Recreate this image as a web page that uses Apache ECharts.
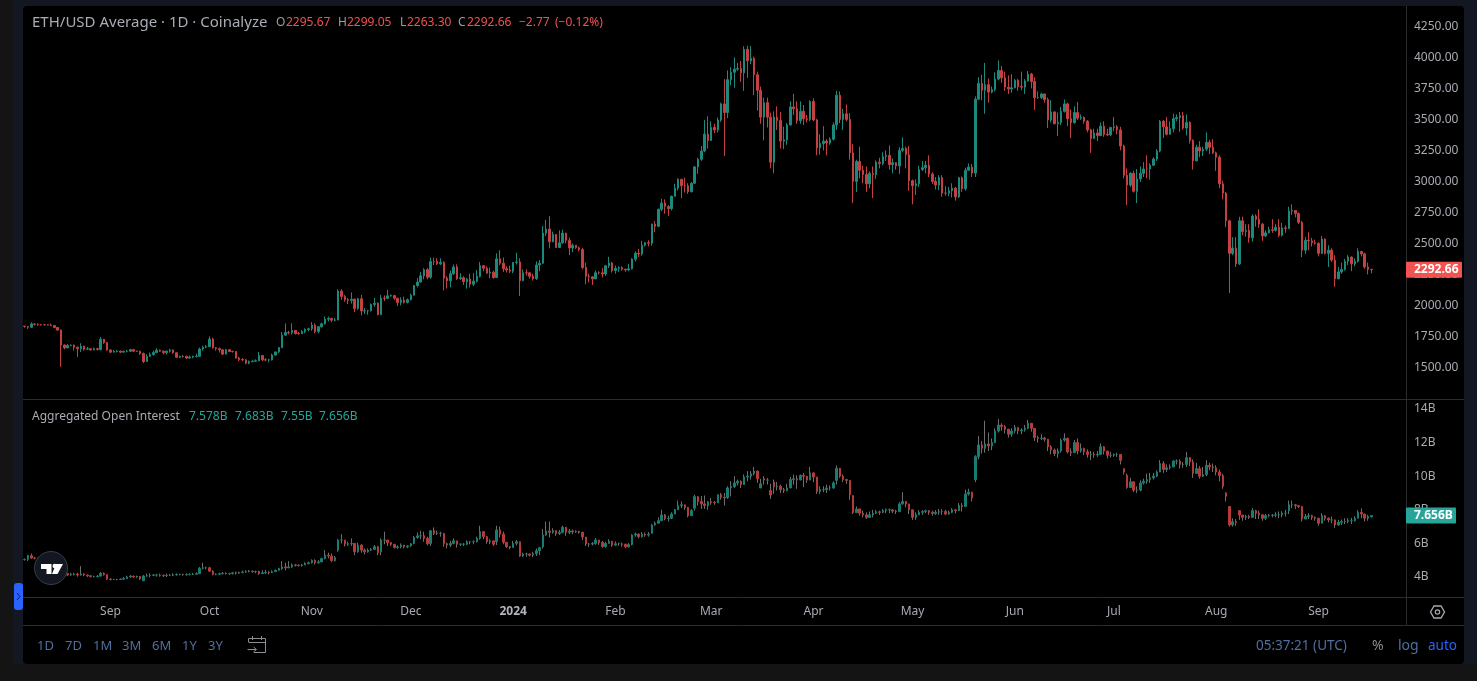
<!DOCTYPE html>
<html><head><meta charset="utf-8">
<style>html,body{margin:0;padding:0;background:#131722;overflow:hidden}#c{width:1477px;height:681px}</style>
<script src="https://cdn.jsdelivr.net/npm/echarts@6/dist/echarts.min.js"></script>
</head><body><div id="c"></div>
<script>
const startDate = '2023-08-06';
const futureDays = 10;
const monthNames = ['Jan','Feb','Mar','Apr','May','Jun','Jul','Aug','Sep','Oct','Nov','Dec'];
const priceTicks = [1500,1750,2000,2250,2500,2750,3000,3250,3500,3750,4000,4250];
const oiTicks = [4,6,8,10,12,14];
const priceFirstOpen = 1838;
const priceClose = [
/*Aug23*/1835,1828,1855,1853,1850,1849,1848,1846,1842,1827,1806,1685,1662,1681,1684,1668,1656,1676,1652,1655,1646,1656,1650,1732,1705,1645,
/*Sep23*/1628,1634,1636,1628,1634,1635,1648,1636,1635,1617,1552,1593,1608,1625,1642,1636,1624,1636,1645,1623,1586,1594,1593,1580,1588,1593,1595,1653,1667,1672,
/*Oct23*/1733,1663,1656,1647,1612,1647,1633,1633,1580,1568,1566,1539,1553,1555,1558,1600,1566,1565,1566,1604,1630,1664,1765,1786,1785,1803,1778,1777,1795,1810,1816,
/*Nov23*/1846,1795,1833,1856,1894,1900,1886,1887,2120,2077,2050,2045,2055,1980,2058,1960,1961,1962,2013,2022,1930,2063,2062,2082,2084,2063,2028,2048,2029,2051,
/*Dec23*/2087,2165,2193,2243,2293,2232,2358,2358,2340,2352,2225,2203,2260,2315,2220,2228,2196,2217,2176,2200,2240,2325,2305,2265,2272,2230,2380,2345,2300,2290,2281,
/*Jan24*/2352,2355,2204,2268,2268,2240,2220,2330,2345,2588,2620,2518,2577,2472,2510,2588,2529,2468,2490,2470,2455,2310,2240,2235,2218,2268,2268,2258,2324,2346,2286,
/*Feb24*/2304,2309,2297,2291,2300,2378,2425,2420,2490,2510,2506,2660,2643,2780,2830,2802,2785,2885,2950,3022,2970,2970,2922,2990,3122,3183,3250,3386,3335,
/*Mar24*/3440,3420,3500,3630,3560,3825,3885,3910,3915,3880,4070,3977,3997,3865,3740,3523,3640,3523,3160,3523,3495,3330,3340,3460,3605,3590,3495,3570,3510,3505,3650,
/*Apr24*/3500,3275,3310,3330,3315,3345,3460,3700,3505,3550,3505,3235,3005,3165,3095,3060,2985,3070,3060,3160,3150,3205,3215,3140,3155,3130,3255,3270,3220,3010,
/*May24*/2970,2985,3100,3115,3135,3065,3005,2975,3035,2910,2910,2930,2950,2880,3035,2945,3095,3120,3072,3668,3795,3740,3785,3725,3745,3830,3900,3840,3765,3750,3760,
/*Jun24*/3820,3770,3765,3815,3870,3810,3680,3680,3710,3665,3500,3565,3470,3480,3570,3630,3510,3480,3560,3515,3520,3490,3420,3350,3395,3375,3450,3385,3380,3440,
/*Jul24*/3445,3420,3290,3055,2975,3070,2925,3025,3070,3105,3105,3135,3185,3250,3490,3445,3385,3430,3510,3520,3535,3435,3480,3335,3170,3280,3250,3265,3320,3280,3235,
/*Aug24*/3200,2985,2910,2687,2425,2467,2340,2687,2600,2610,2550,2725,2700,2660,2565,2590,2615,2610,2635,2570,2630,2625,2765,2770,2745,2675,2450,2530,2525,2510,2505,
/*Sep24*/2425,2540,2425,2450,2370,2220,2275,2295,2360,2395,2340,2360,2440,2420,2315,2295.67,2292.66];
const priceHigh = [
/*Aug23*/1840,1838,1868,1860,1860,1855,1852,1852,1858,1840,1830,1810,1690,1695,1690,1690,1672,1700,1680,1670,1655,1665,1662,1750,1730,1710,
/*Sep23*/1650,1645,1645,1640,1640,1645,1655,1650,1640,1640,1625,1610,1625,1640,1660,1650,1640,1640,1655,1650,1625,1600,1605,1600,1600,1600,1615,1665,1680,1685,
/*Oct23*/1755,1745,1670,1665,1650,1655,1650,1640,1635,1590,1580,1570,1560,1562,1570,1630,1605,1580,1575,1615,1630,1670,1790,1860,1800,1860,1805,1790,1805,1820,1825,
/*Nov23*/1870,1860,1838,1865,1915,1915,1905,1905,2135,2135,2090,2065,2110,2060,2065,2090,1985,1970,2020,2065,2030,2090,2085,2130,2095,2090,2065,2070,2075,2060,
/*Dec23*/2100,2170,2225,2275,2305,2305,2390,2390,2385,2385,2360,2240,2285,2335,2335,2265,2240,2225,2260,2265,2290,2355,2330,2320,2310,2285,2425,2450,2390,2320,2325,
/*Jan24*/2355,2430,2385,2295,2295,2270,2260,2360,2370,2645,2695,2725,2600,2580,2610,2615,2590,2550,2505,2490,2480,2470,2350,2260,2240,2285,2280,2305,2330,2397,2355,
/*Feb24*/2325,2320,2320,2300,2340,2385,2440,2460,2525,2515,2530,2665,2685,2785,2865,2860,2815,2890,2985,3030,3015,3035,2990,3000,3125,3195,3290,3500,3530,
/*Mar24*/3490,3470,3520,3640,3830,3900,3925,4005,3960,3975,4095,4100,4097,4010,3890,3770,3680,3680,3560,3570,3610,3565,3445,3475,3650,3710,3650,3650,3620,3540,3660,
/*Apr24*/3675,3510,3385,3450,3345,3360,3480,3735,3730,3590,3625,3555,3305,3180,3285,3130,3125,3085,3125,3175,3195,3240,3255,3295,3190,3160,3280,3360,3285,3290,
/*May24*/3020,3020,3130,3170,3170,3215,3080,3040,3055,3055,2965,2960,2990,2960,3040,3045,3115,3150,3145,3690,3845,3865,3960,3835,3770,3885,3980,3935,3890,3860,3870,
/*Jun24*/3830,3830,3890,3830,3895,3880,3845,3730,3720,3710,3680,3660,3570,3560,3605,3665,3640,3585,3610,3645,3545,3530,3500,3430,3430,3430,3480,3490,3430,3445,
/*Jul24*/3525,3460,3445,3300,3110,3080,3090,3105,3125,3160,3215,3150,3200,3265,3500,3500,3525,3490,3550,3545,3565,3565,3545,3490,3345,3300,3330,3285,3400,3340,3345,
/*Aug24*/3245,3215,3010,2920,2695,2555,2555,2720,2720,2660,2660,2740,2740,2780,2670,2610,2640,2700,2660,2700,2670,2650,2800,2820,2760,2755,2685,2555,2595,2550,2535,
/*Sep24*/2515,2565,2545,2490,2465,2410,2315,2350,2380,2410,2400,2385,2465,2445,2430,2350,2299.05];
const priceLow = [
/*Aug23*/1825,1815,1825,1842,1840,1842,1845,1843,1838,1820,1800,1510,1650,1660,1675,1640,1590,1630,1640,1645,1640,1645,1640,1640,1695,1640,
/*Sep23*/1620,1625,1625,1620,1625,1625,1630,1630,1630,1605,1540,1550,1590,1600,1620,1630,1610,1610,1625,1615,1580,1580,1585,1572,1575,1578,1585,1590,1640,1660,
/*Oct23*/1672,1655,1640,1625,1605,1610,1628,1625,1575,1555,1555,1530,1530,1545,1552,1555,1555,1555,1545,1560,1600,1620,1665,1760,1770,1770,1770,1770,1775,1780,1795,
/*Nov23*/1800,1780,1780,1825,1850,1875,1870,1875,1885,2050,2035,2015,2020,1950,1970,1925,1935,1930,1955,1995,1925,1930,2040,2055,2075,2050,2000,2005,2020,2020,
/*Dec23*/2045,2085,2150,2190,2215,2215,2220,2330,2330,2330,2125,2140,2150,2250,2210,2210,2170,2140,2150,2160,2190,2230,2280,2260,2225,2220,2225,2330,2275,2270,2265,
/*Jan24*/2265,2335,2080,2200,2245,2220,2205,2210,2280,2340,2565,2465,2515,2470,2470,2500,2505,2410,2435,2460,2440,2295,2175,2190,2170,2220,2255,2230,2243,2305,2270,
/*Feb24*/2260,2275,2285,2275,2280,2295,2360,2395,2405,2480,2480,2485,2595,2635,2765,2745,2725,2770,2915,2930,2870,2915,2905,2915,2985,3065,3170,3240,3270,
/*Mar24*/3420,3395,3400,3485,3210,3515,3780,3760,3895,3808,3735,3840,3950,3700,3575,3470,3335,3440,3110,3070,3420,3270,3265,3300,3455,3540,3470,3470,3460,3480,3490,
/*Apr24*/3490,3215,3220,3255,3215,3300,3335,3420,3475,3420,3490,3180,2830,2920,3030,2990,2920,2950,2870,3025,3110,3135,3170,3100,3070,3100,3065,3240,3110,2930,
/*May24*/2820,2895,2960,3090,3070,3040,2985,2940,2935,2880,2890,2885,2875,2850,2870,2920,2930,3090,3040,3040,3660,3660,3550,3640,3715,3730,3820,3800,3735,3710,3720,
/*Jun24*/3755,3735,3740,3710,3810,3755,3580,3670,3670,3640,3435,3480,3465,3370,3460,3560,3450,3355,3470,3500,3500,3470,3400,3235,3350,3330,3370,3365,3370,3370,
/*Jul24*/3410,3385,3255,3030,2815,2960,2915,2830,3000,3040,3030,3020,3130,3170,3240,3355,3375,3380,3400,3490,3405,3420,3375,3310,3100,3170,3200,3210,3250,3225,3225,
/*Aug24*/3090,2950,2860,2635,2105,2410,2315,2330,2570,2560,2510,2520,2640,2630,2525,2555,2585,2590,2600,2555,2560,2590,2620,2735,2715,2660,2395,2420,2450,2480,2495,
/*Sep24*/2400,2420,2415,2315,2355,2155,2215,2260,2285,2330,2280,2320,2350,2400,2300,2255,2263.3];
const oiFirstOpen = 5.03;
const oiClose = [
5.05,5.27,5.13,5.12,5.10,5.08,5.08,5.05,5.00,4.95, 4.90,4.35,4.20,4.12,4.16,4.18,4.12,4.18,4.12,4.08,
4.02,4.02,4.05,4.22,4.14,3.88,3.85,3.85,3.85,3.87, 3.90,4.00,4.05,4.00,4.03,3.88,4.06,4.08,4.10,4.12,
4.12,4.10,4.08,4.10,4.10,4.13,4.15,4.15,4.14,4.14, 4.15,4.17,4.20,4.52,4.55,4.55,4.35,4.15,4.17,4.20,
4.22,4.20,4.20,4.25,4.23,4.27,4.30,4.33,4.35,4.32, 4.33,4.20,4.25,4.28,4.27,4.32,4.40,4.50,4.60,4.55,
4.60,4.72,4.70,4.68,4.72,4.80,4.85,4.98,4.85,4.90, 5.10,5.30,5.25,4.98,5.15,6.20,6.20,5.95,5.98,6.00,
5.50,5.90,5.60,5.50,5.60,5.65,5.80,5.45,6.20,6.20, 6.05,5.95,5.75,5.80,5.90,5.80,5.85,5.98,6.35,6.45,
6.45,6.30,5.98,6.75,6.60,6.60,6.60,5.98,5.90,6.00, 6.15,5.95,5.95,5.95,6.10,6.10,6.10,6.30,6.70,6.40,
6.10,6.15,5.95,6.80,6.55,6.07,5.80,5.76,6.00,6.10, 5.25,5.37,5.37,5.30,5.38,5.57,5.74,6.50,6.74,6.66,
6.76,6.58,6.66,6.96,6.66,6.74,6.68,6.72,6.66,6.38, 5.96,5.96,6.00,6.20,6.06,5.81,6.00,6.13,5.90,5.98,
5.97,5.95,5.80,5.93,6.50,6.55,6.40,6.55,6.50,6.55, 7.10,7.20,7.35,7.69,7.49,7.50,7.75,8.00,8.25,8.30,
8.15,7.65,7.95,8.78,8.50,8.35,8.25,8.48,8.44,8.42, 8.90,8.75,8.72,9.30,9.38,9.60,9.70,9.50,9.95,10.00,
10.15,10.30,9.85,9.55,9.77,9.77,8.88,9.37,9.40,9.20, 9.15,9.30,9.80,9.85,9.78,10.05,10.00,9.77,10.20,9.95,
9.10,9.20,9.20,9.30,9.30,9.60,10.47,10.00,9.80,9.75, 8.90,7.83,8.05,7.80,7.70,7.55,7.70,7.80,7.88,7.85,
7.95,8.00,8.00,7.92,7.90,8.35,8.50,8.35,8.00,7.55, 7.70,7.85,7.90,7.95,7.85,7.78,7.85,7.90,7.90,7.75,
7.85,8.00,7.95,8.25,8.20,8.94,9.05,8.72,11.16,11.86, 11.66,11.92,11.80,12.00,12.69,13.04,12.95,12.80,12.50,12.69,
12.90,12.70,12.75,12.85,13.15,12.85,12.30,12.25,12.27,12.20, 11.75,11.56,11.35,11.50,12.15,12.25,11.45,11.40,12.00,11.50,
11.65,11.45,11.30,11.30,11.26,11.30,11.75,11.50,11.25,11.25, 11.30,11.30,10.95,10.25,9.33,9.67,9.17,9.17,9.60,9.70,
9.80,9.90,10.00,10.25,10.75,10.40,10.50,10.55,10.90,10.90, 10.70,10.70,11.10,10.85,10.17,10.45,10.00,10.10,10.65,10.55,
10.50,10.25,10.03,9.40,8.80,7.10,7.30,7.25,7.69,7.55, 7.60,7.55,7.95,7.80,7.70,7.50,7.65,7.67,7.68,7.70,
7.70,7.80,7.80,8.30,8.30,8.25,8.20,7.45,7.60,7.65, 7.55,7.50,7.20,7.65,7.50,7.40,7.40,7.10,7.25,7.30,
7.30,7.35,7.35,7.50,7.85,7.75,7.50,7.60,7.656];
const oiHigh = [
5.10,5.32,5.40,5.20,5.15,5.12,5.12,5.10,5.08,5.00, 4.95,4.95,4.40,4.25,4.25,4.25,4.25,4.65,4.22,4.15,
4.08,4.08,4.12,4.30,4.28,4.12,3.92,3.90,3.90,3.92, 4.00,4.08,4.12,4.08,4.08,4.05,4.12,4.20,4.22,4.18,
4.18,4.20,4.15,4.20,4.18,4.22,4.22,4.20,4.20,4.22, 4.22,4.25,4.28,4.60,4.85,4.62,4.60,4.40,4.22,4.25,
4.30,4.28,4.25,4.30,4.32,4.32,4.38,4.40,4.42,4.38, 4.38,4.38,4.40,4.42,4.35,4.40,4.45,4.55,4.95,4.85,
4.95,4.80,4.78,4.75,4.78,4.88,4.92,5.05,5.05,5.00, 5.15,5.60,5.45,5.40,5.25,6.25,6.55,6.20,6.10,6.30,
6.00,6.05,5.95,5.70,5.70,5.72,5.90,5.85,6.30,6.70, 6.10,6.05,5.92,5.88,6.00,5.90,5.90,6.02,6.45,6.65,
6.75,6.70,6.40,6.80,6.95,6.75,6.70,6.35,6.05,6.15, 6.30,6.10,6.00,6.02,6.18,6.15,6.18,6.40,7.05,6.72,
6.45,6.25,6.05,7.05,7.00,6.70,5.95,5.85,6.15,6.20, 5.70,5.45,5.45,5.40,5.50,5.70,5.80,6.85,7.30,7.30,
6.90,6.75,6.80,7.05,6.80,6.85,6.82,6.78,6.75,6.70, 6.38,6.02,6.08,6.32,6.15,6.15,6.10,6.25,6.10,6.12,
6.05,6.05,5.98,6.02,6.55,6.65,6.60,6.68,6.65,6.68, 7.15,7.30,7.55,8.00,7.75,7.65,7.85,8.05,8.55,8.50,
8.30,7.95,8.05,8.90,8.80,8.82,8.85,8.50,8.70,8.52, 8.90,9.00,9.00,9.40,9.70,10.00,9.80,9.75,10.10,10.30,
10.30,10.55,10.35,9.85,10.00,9.90,9.55,9.80,9.65,9.50, 9.30,9.55,9.95,10.10,10.05,10.10,10.20,9.95,10.55,10.15,
9.55,9.40,9.40,9.50,9.45,9.70,10.65,10.35,10.10,9.85, 9.25,8.40,8.20,8.00,7.95,7.85,7.90,8.00,7.98,7.95,
8.05,8.08,8.08,8.05,8.00,8.45,9.05,8.50,8.30,7.95, 7.85,7.98,7.98,8.00,7.98,7.95,7.98,8.05,8.05,8.00,
7.95,8.10,8.05,8.40,8.40,9.20,9.25,8.85,11.25,12.40, 12.10,13.30,12.60,12.25,12.85,13.40,13.15,13.05,12.80,12.85,
13.05,12.90,12.85,13.05,13.35,13.05,12.60,12.40,12.50,12.35, 12.05,11.85,11.65,11.65,12.25,12.55,12.30,11.65,12.15,12.25,
11.95,11.70,11.60,11.50,11.45,11.50,11.95,11.80,11.35,11.45, 11.35,11.40,11.20,10.40,10.15,9.90,9.30,9.40,9.75,9.85,
10.15,10.20,10.20,10.35,10.95,10.90,10.70,10.70,10.95,11.00, 11.00,10.85,11.45,11.15,11.00,10.80,10.60,10.55,10.95,10.80,
10.75,10.65,10.40,10.15,9.05,8.10,7.50,7.45,7.80,7.68, 7.70,7.70,8.10,8.00,7.95,7.65,7.75,7.75,7.75,7.85,
7.90,7.92,8.00,8.55,8.55,8.35,8.25,8.10,7.75,7.80, 7.70,7.60,7.40,7.80,7.68,7.55,7.60,7.30,7.40,7.42,
7.50,7.50,7.52,7.62,7.98,8.08,7.65,7.70,7.683];
const oiLow = [
4.98,4.95,5.08,5.05,5.02,5.02,5.00,4.95,4.90,4.88, 4.82,4.25,4.10,4.05,4.08,4.10,4.02,4.08,4.05,4.00,
3.98,3.98,3.98,4.10,4.08,3.82,3.80,3.82,3.80,3.82, 3.85,3.90,3.95,3.95,3.95,3.82,3.75,4.02,3.98,4.05,
4.02,4.02,4.00,4.00,4.05,4.05,4.08,4.10,4.08,4.08, 4.10,4.12,4.12,4.18,4.45,4.45,4.30,4.10,4.10,4.12,
4.15,4.15,4.12,4.15,4.15,4.20,4.22,4.25,4.28,4.25, 4.22,4.12,4.18,4.18,4.15,4.25,4.30,4.42,4.42,4.40,
4.52,4.55,4.62,4.62,4.62,4.72,4.75,4.80,4.75,4.80, 4.90,5.05,5.10,4.90,4.92,5.50,6.00,5.82,5.85,5.85,
5.30,5.45,5.45,5.35,5.45,5.55,5.60,5.30,5.30,5.95, 5.85,5.85,5.70,5.68,5.70,5.70,5.72,5.80,5.95,6.28,
6.25,6.10,5.88,5.85,6.50,6.50,6.40,5.80,5.70,5.78, 5.95,5.75,5.85,5.85,5.90,5.95,5.95,6.05,6.22,6.25,
5.98,5.95,5.85,5.90,6.35,5.95,5.72,5.65,5.78,5.88, 5.20,5.20,5.20,5.22,5.18,5.25,5.30,5.70,6.45,6.35,
6.58,6.45,6.50,6.60,6.45,6.55,6.55,6.62,6.58,6.20, 5.85,5.80,5.88,5.92,5.92,5.75,5.75,6.00,5.80,5.85,
5.85,5.80,5.72,5.75,5.88,6.40,6.30,6.35,6.40,6.40, 6.60,7.05,7.25,7.35,7.38,7.30,7.45,7.80,8.00,8.10,
8.00,7.55,7.65,7.95,8.25,8.05,8.05,8.00,8.30,8.30, 8.50,8.60,8.25,8.65,8.80,9.30,9.45,9.30,9.60,9.70,
9.80,10.05,9.60,9.30,9.50,9.50,8.65,8.95,9.15,9.00, 9.00,9.10,9.35,9.50,9.25,9.75,9.35,9.60,9.90,9.65,
8.95,8.95,9.05,9.00,9.15,9.25,9.50,9.90,9.65,9.55, 8.60,7.75,7.85,7.65,7.55,7.45,7.55,7.55,7.75,7.70,
7.80,7.80,7.80,7.80,7.75,7.85,8.30,8.15,7.75,7.40, 7.40,7.70,7.70,7.80,7.70,7.65,7.70,7.70,7.70,7.68,
7.70,7.80,7.78,7.95,7.90,8.30,8.85,8.50,9.65,11.00, 11.35,11.40,11.50,11.55,12.00,12.60,12.70,12.55,12.30,12.35,
12.55,12.50,12.50,12.65,12.80,12.65,12.10,12.00,12.15,12.05, 11.50,11.30,11.20,11.10,11.40,12.05,11.35,11.20,11.40,11.30,
11.40,11.25,11.10,10.95,11.10,11.15,11.25,11.30,11.05,11.10, 11.15,11.15,10.70,10.10,9.25,9.45,9.05,9.00,9.10,9.50,
9.55,9.60,9.80,9.95,10.55,10.20,10.25,10.40,10.55,10.70, 10.45,10.50,10.55,10.60,9.90,10.15,9.85,9.95,10.00,10.35,
10.25,10.05,9.70,9.25,8.50,7.00,7.00,7.05,7.40,7.35, 7.40,7.45,7.55,7.45,7.45,7.35,7.40,7.55,7.55,7.55,
7.50,7.55,7.60,7.75,8.10,8.05,8.10,7.30,7.45,7.45, 7.40,7.35,7.05,7.45,7.35,7.25,7.20,6.92,7.05,7.10,
7.15,7.20,7.15,7.30,7.50,7.50,7.30,7.35,7.55];
// Open interest candles that do not open at the previous close: [day index, open]
const oiOpenGaps = [[36,3.78],[95,5.6],[108,5.5],[118,6.0],[123,6.0],[138,6.3],[143,6.1],[157,5.8],[190,6.6],[203,8.1],[223,9.3],[224,9.85],[226,9.15],[227,9.65],[246,9.75],[251,8.85],[288,9.8],[333,10.45],[334,10.05],[364,9.0],[365,8.2],[368,7.95],[383,7.95],[408,7.578]];

const FONT = '"Noto Sans", sans-serif';
const UP = '#1b8a7c', DOWN = '#c54141', OI_UP = '#187d70', OI_DOWN = '#b53b39', OI_WICK = '#6e6e6e';
const GREY = '#a8abb2', LINE = '#2b2b30', BLUEGREY = '#4f6f9f';

const categories = [];
{ const d = new Date(startDate + 'T00:00:00Z');
  for (let i = 0; i < priceClose.length + futureDays; i++) { categories.push(d.toISOString().slice(0,10)); d.setUTCDate(d.getUTCDate()+1); } }
const priceData = priceClose.map((c,i)=>[i?priceClose[i-1]:priceFirstOpen, c, priceLow[i], priceHigh[i]]);
const gapMap = new Map(oiOpenGaps);
const oiOpen = oiClose.map((c,i)=>gapMap.has(i)?gapMap.get(i):(i?oiClose[i-1]:oiFirstOpen));
const oiWicks = oiClose.map((c,i)=>[oiOpen[i], c, Math.min(oiLow[i],oiOpen[i],c), Math.max(oiHigh[i],oiOpen[i],c)]);
const oiBodies = oiClose.map((c,i)=>[oiOpen[i], c, Math.min(oiOpen[i],c), Math.max(oiOpen[i],c)]);

const chart = echarts.init(document.getElementById('c'), null, {renderer:'canvas'});
const txt = (x,y,text,fill,size,extra) => ({type:'text',z:30,silent:true,x,y,style:Object.assign({text,fill,font:(size||12)+'px '+FONT,textVerticalAlign:'middle'},extra||{})});
const rect = (x,y,w,h,fill,r,z) => ({type:'rect',z:z||30,silent:true,shape:{x,y,width:w,height:h,r:r||0},style:{fill}});
const ln = (x1,y1,x2,y2,c) => ({type:'line',z:20,silent:true,shape:{x1,y1,x2,y2},style:{stroke:c||LINE,lineWidth:1}});
const pl = (points,stroke,w) => ({type:'polyline',z:31,silent:true,shape:{points},style:{stroke,fill:'none',lineWidth:w||1}});
const pg = (points,fill) => ({type:'polygon',z:31,silent:true,shape:{points},style:{fill}});

const baseGraphics = [
  rect(0,664,1477,17,'#141414',0,-10), rect(0,0,13,681,'#141414',0,-10),
  rect(23,6,1441,658,'#000000',4,-9),
  ln(23,399.5,1464,399.5), ln(23,597.5,1464,597.5), ln(23,625.5,1464,625.5), ln(1406.5,6,1406.5,625.5),
  txt(32,23,'ETH/USD Average · 1D · Coinalyze','#a9acb4',15),
  txt(276,23,'O','#9a9da5',12), txt(286,23,'2295.67','#ef5350',12),
  txt(338,23,'H','#9a9da5',12), txt(347,23,'2299.05','#ef5350',12),
  txt(400,23,'L','#9a9da5',12), txt(407,23,'2263.30','#ef5350',12),
  txt(458,23,'C','#9a9da5',12), txt(467,23,'2292.66','#ef5350',12),
  txt(519,23,'−2.77','#ef5350',12), txt(555,23,'(−0.12%)','#ef5350',12),
  txt(32,417,'Aggregated Open Interest','#a8abb2',12),
  txt(189,417,'7.578B','#26a69a',12), txt(235,417,'7.683B','#26a69a',12),
  txt(281,417,'7.55B','#26a69a',12), txt(319,417,'7.656B','#26a69a',12),
  ...[['1D',37],['7D',65],['1M',93],['3M',122],['6M',152],['1Y',182],['3Y',208]].map(([t,x])=>txt(x,646,t,BLUEGREY,13)),
  txt(1256,646,'05:37:21 (UTC)',BLUEGREY,13.5),
  txt(1372,646,'%','#8a8d94',14), txt(1398,646,'log',BLUEGREY,14), txt(1428,646,'auto','#2962ff',13.5),
  // calendar icon
  pl([[248.5,642],[248.5,638.5],[265.5,638.5],[265.5,652.5],[254,652.5]],'#8a8d94'),
  ln(248.5,642.5,265.5,642.5,'#8a8d94'), ln(252.5,636,252.5,640,'#8a8d94'), ln(261.5,636,261.5,640,'#8a8d94'),
  pl([[247.5,649.5],[256,649.5]],'#8a8d94'), pl([[253.5,647],[256.5,649.5],[253.5,652]],'#8a8d94'),
  // settings hexagon
  {type:'polygon',z:30,silent:true,shape:{points:[[1430.5,612],[1434,606],[1441,606],[1444.5,612],[1441,618],[1434,618]]},style:{stroke:'#a8abb2',fill:'none',lineWidth:1.3}},
  {type:'circle',z:30,silent:true,shape:{cx:1437.5,cy:612,r:2.2},style:{stroke:'#a8abb2',fill:'none',lineWidth:1.2}},
  // left handle
  rect(14,583,9,27,'#2962ff',3),
  pl([[17,593],[20,596.5],[17,600]],'#0b1a4a'),
  // TradingView badge
  {type:'circle',z:30,silent:true,shape:{cx:51,cy:568,r:16.5},style:{fill:'#131722',stroke:'#3a3d46',lineWidth:1}},
  pg([[41,564],[51.5,564],[51.5,574],[46.5,574],[46.5,569],[41,569]],'#ffffff'),
  pg([[56,564],[63,564],[57.5,574],[52,574]],'#ffffff'),
  {type:'circle',z:31,silent:true,shape:{cx:54.7,cy:566,r:2.2},style:{fill:'#ffffff'}}
];

chart.setOption({
  animation:false,
  backgroundColor:'#131722',
  textStyle:{fontFamily:FONT},
  grid:[{left:23,right:71,top:6,height:393},{left:23,right:71,top:400,height:197}],
  xAxis:[
    {type:'category',gridIndex:0,data:categories,boundaryGap:true,axisLine:{show:false},axisTick:{show:false},axisLabel:{show:false},splitLine:{show:false}},
    {type:'category',gridIndex:1,data:categories,boundaryGap:true,axisLine:{show:false},axisTick:{show:false},splitLine:{show:false},
     axisLabel:{color:GREY,fontSize:12,fontFamily:FONT,margin:9,hideOverlap:false,
       interval:(i,v)=>v.endsWith('-01'),
       formatter:(v)=>{const m=+v.slice(5,7);return m===1?'{y|'+v.slice(0,4)+'}':monthNames[m-1];},
       rich:{y:{fontWeight:'bold',color:'#b2b5be',fontSize:12,fontFamily:FONT}}}}
  ],
  yAxis:[
    {type:'value',gridIndex:0,position:'right',min:1250,max:4419.35,axisLine:{show:false},axisTick:{show:false},splitLine:{show:false},
     axisLabel:{customValues:priceTicks,color:GREY,fontSize:12,fontFamily:FONT,margin:8,padding:[2,0,0,0],formatter:(v)=>v.toFixed(2)}},
    {type:'value',gridIndex:1,position:'right',min:2.81,max:14.536,axisLine:{show:false},axisTick:{show:false},splitLine:{show:false},
     axisLabel:{customValues:oiTicks,color:GREY,fontSize:12,fontFamily:FONT,margin:8,padding:[2,0,0,0],formatter:(v)=>v+'B'}}
  ],
  series:[
    {type:'candlestick',xAxisIndex:0,yAxisIndex:0,data:priceData,barWidth:2,
     itemStyle:{color:UP,color0:DOWN,borderColor:UP,borderColor0:DOWN,borderColorDoji:DOWN,borderWidth:1}},
    {type:'candlestick',xAxisIndex:1,yAxisIndex:1,data:oiWicks,barWidth:1,
     itemStyle:{color:OI_WICK,color0:OI_WICK,borderColor:OI_WICK,borderColor0:OI_WICK,borderColorDoji:OI_WICK,borderWidth:1}},
    {type:'candlestick',xAxisIndex:1,yAxisIndex:1,data:oiBodies,barWidth:2,
     itemStyle:{color:OI_UP,color0:OI_DOWN,borderColor:OI_UP,borderColor0:OI_DOWN,borderColorDoji:OI_UP,borderWidth:1}}
  ],
  graphic:baseGraphics
});

// Last-value tags sit on the axis at the last close, through the axis's own scale.
const py = chart.convertToPixel({yAxisIndex:0}, priceClose[priceClose.length-1]);
const oy = chart.convertToPixel({yAxisIndex:1}, oiClose[oiClose.length-1]);
chart.setOption({graphic:baseGraphics.concat([
  rect(1406,py-8,56,16,'#f05350',1,40),
  {type:'text',z:41,silent:true,x:1414,y:py,style:{text:priceClose[priceClose.length-1].toFixed(2),fill:'#ffffff',font:'bold 12px '+FONT,textVerticalAlign:'middle'}},
  rect(1406,oy-8,50,16,'#26a69a',1,40),
  {type:'text',z:41,silent:true,x:1414,y:oy,style:{text:oiClose[oiClose.length-1].toFixed(3)+'B',fill:'#ffffff',font:'bold 12px '+FONT,textVerticalAlign:'middle'}}
])});
</script></body></html>
